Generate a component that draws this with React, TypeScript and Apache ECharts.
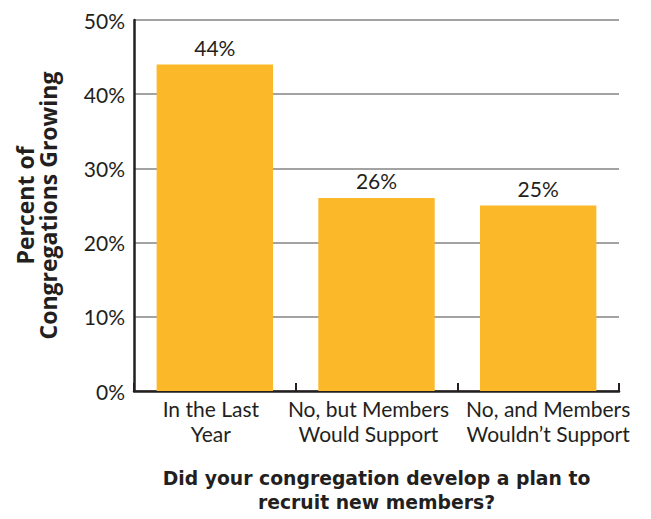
import React, { useEffect, useRef } from "react";
import * as echarts from "echarts";

const categories = [
  "In the Last\nYear",
  "No, but Members\nWould Support",
  "No, and Members\nWouldn\u2019t Support",
];
const values = [44, 26, 25];
const yTicks = [0, 10, 20, 30, 40, 50];

const FONT = "Lato, 'Open Sans', sans-serif";
const BOLD_FONT = "'Open Sans', Lato, sans-serif";
const TITLE_FONT = "'DejaVu Sans', 'Open Sans', sans-serif";
const INK = "#231f20";

// small horizontal nudges of the category labels (layout only)
const labelPadding = [
  [0, 8, 0, 0],
  [0, 16, 0, 0],
  [0, 0, 0, 20],
];

export default function App() {
  const ref = useRef<HTMLDivElement>(null);
  useEffect(() => {
    if (!ref.current) return;
    const chart = echarts.init(ref.current, null, { renderer: "svg" });
    chart.setOption({
      animation: false,
      textStyle: { fontFamily: FONT, color: INK },
      grid: { left: 134, right: 32, top: 20, bottom: 127, containLabel: false },
      xAxis: {
        type: "category",
        data: categories.map((c, i) => ({
          value: c,
          textStyle: { padding: labelPadding[i] },
        })),
        name: "Did your congregation develop a plan to\nrecruit new members?",
        nameLocation: "middle",
        nameGap: 76,
        nameTextStyle: {
          fontFamily: TITLE_FONT,
          fontWeight: "bold",
          fontSize: 18.8,
          lineHeight: 23.5,
          color: INK,
        },
        axisLine: { lineStyle: { color: INK, width: 2.5 } },
        axisTick: { show: true, inside: true, length: 8, lineStyle: { color: INK, width: 2 } },
        axisLabel: {
          fontFamily: FONT,
          fontSize: 21,
          lineHeight: 25,
          color: INK,
          margin: 5,
          interval: 0,
        },
      },
      yAxis: {
        type: "value",
        min: yTicks[0],
        max: yTicks[yTicks.length - 1],
        interval: 10,
        name: "Percent of\nCongregations Growing",
        nameLocation: "middle",
        nameGap: 75,
        nameTextStyle: {
          fontFamily: BOLD_FONT,
          fontWeight: "bold",
          fontSize: 23,
          lineHeight: 23,
          color: INK,
        },
        axisLine: { show: true, lineStyle: { color: INK, width: 2.5 } },
        axisTick: { show: false },
        axisLabel: {
          fontFamily: FONT,
          fontSize: 21,
          color: INK,
          margin: 9,
          formatter: "{value}%",
        },
        splitLine: { lineStyle: { color: "#a3a3a3", width: 2 } },
      },
      series: [
        {
          type: "bar",
          data: values,
          barWidth: "72%",
          itemStyle: { color: "#fbb829" },
          label: {
            show: true,
            position: "top",
            distance: 7,
            formatter: "{c}%",
            fontFamily: FONT,
            fontSize: 21,
            color: INK,
          },
        },
      ],
    });
    return () => chart.dispose();
  }, []);
  return (
    <div
      ref={ref}
      style={{ position: "absolute", left: 0, top: 0, width: 651, height: 519 }}
    />
  );
}
